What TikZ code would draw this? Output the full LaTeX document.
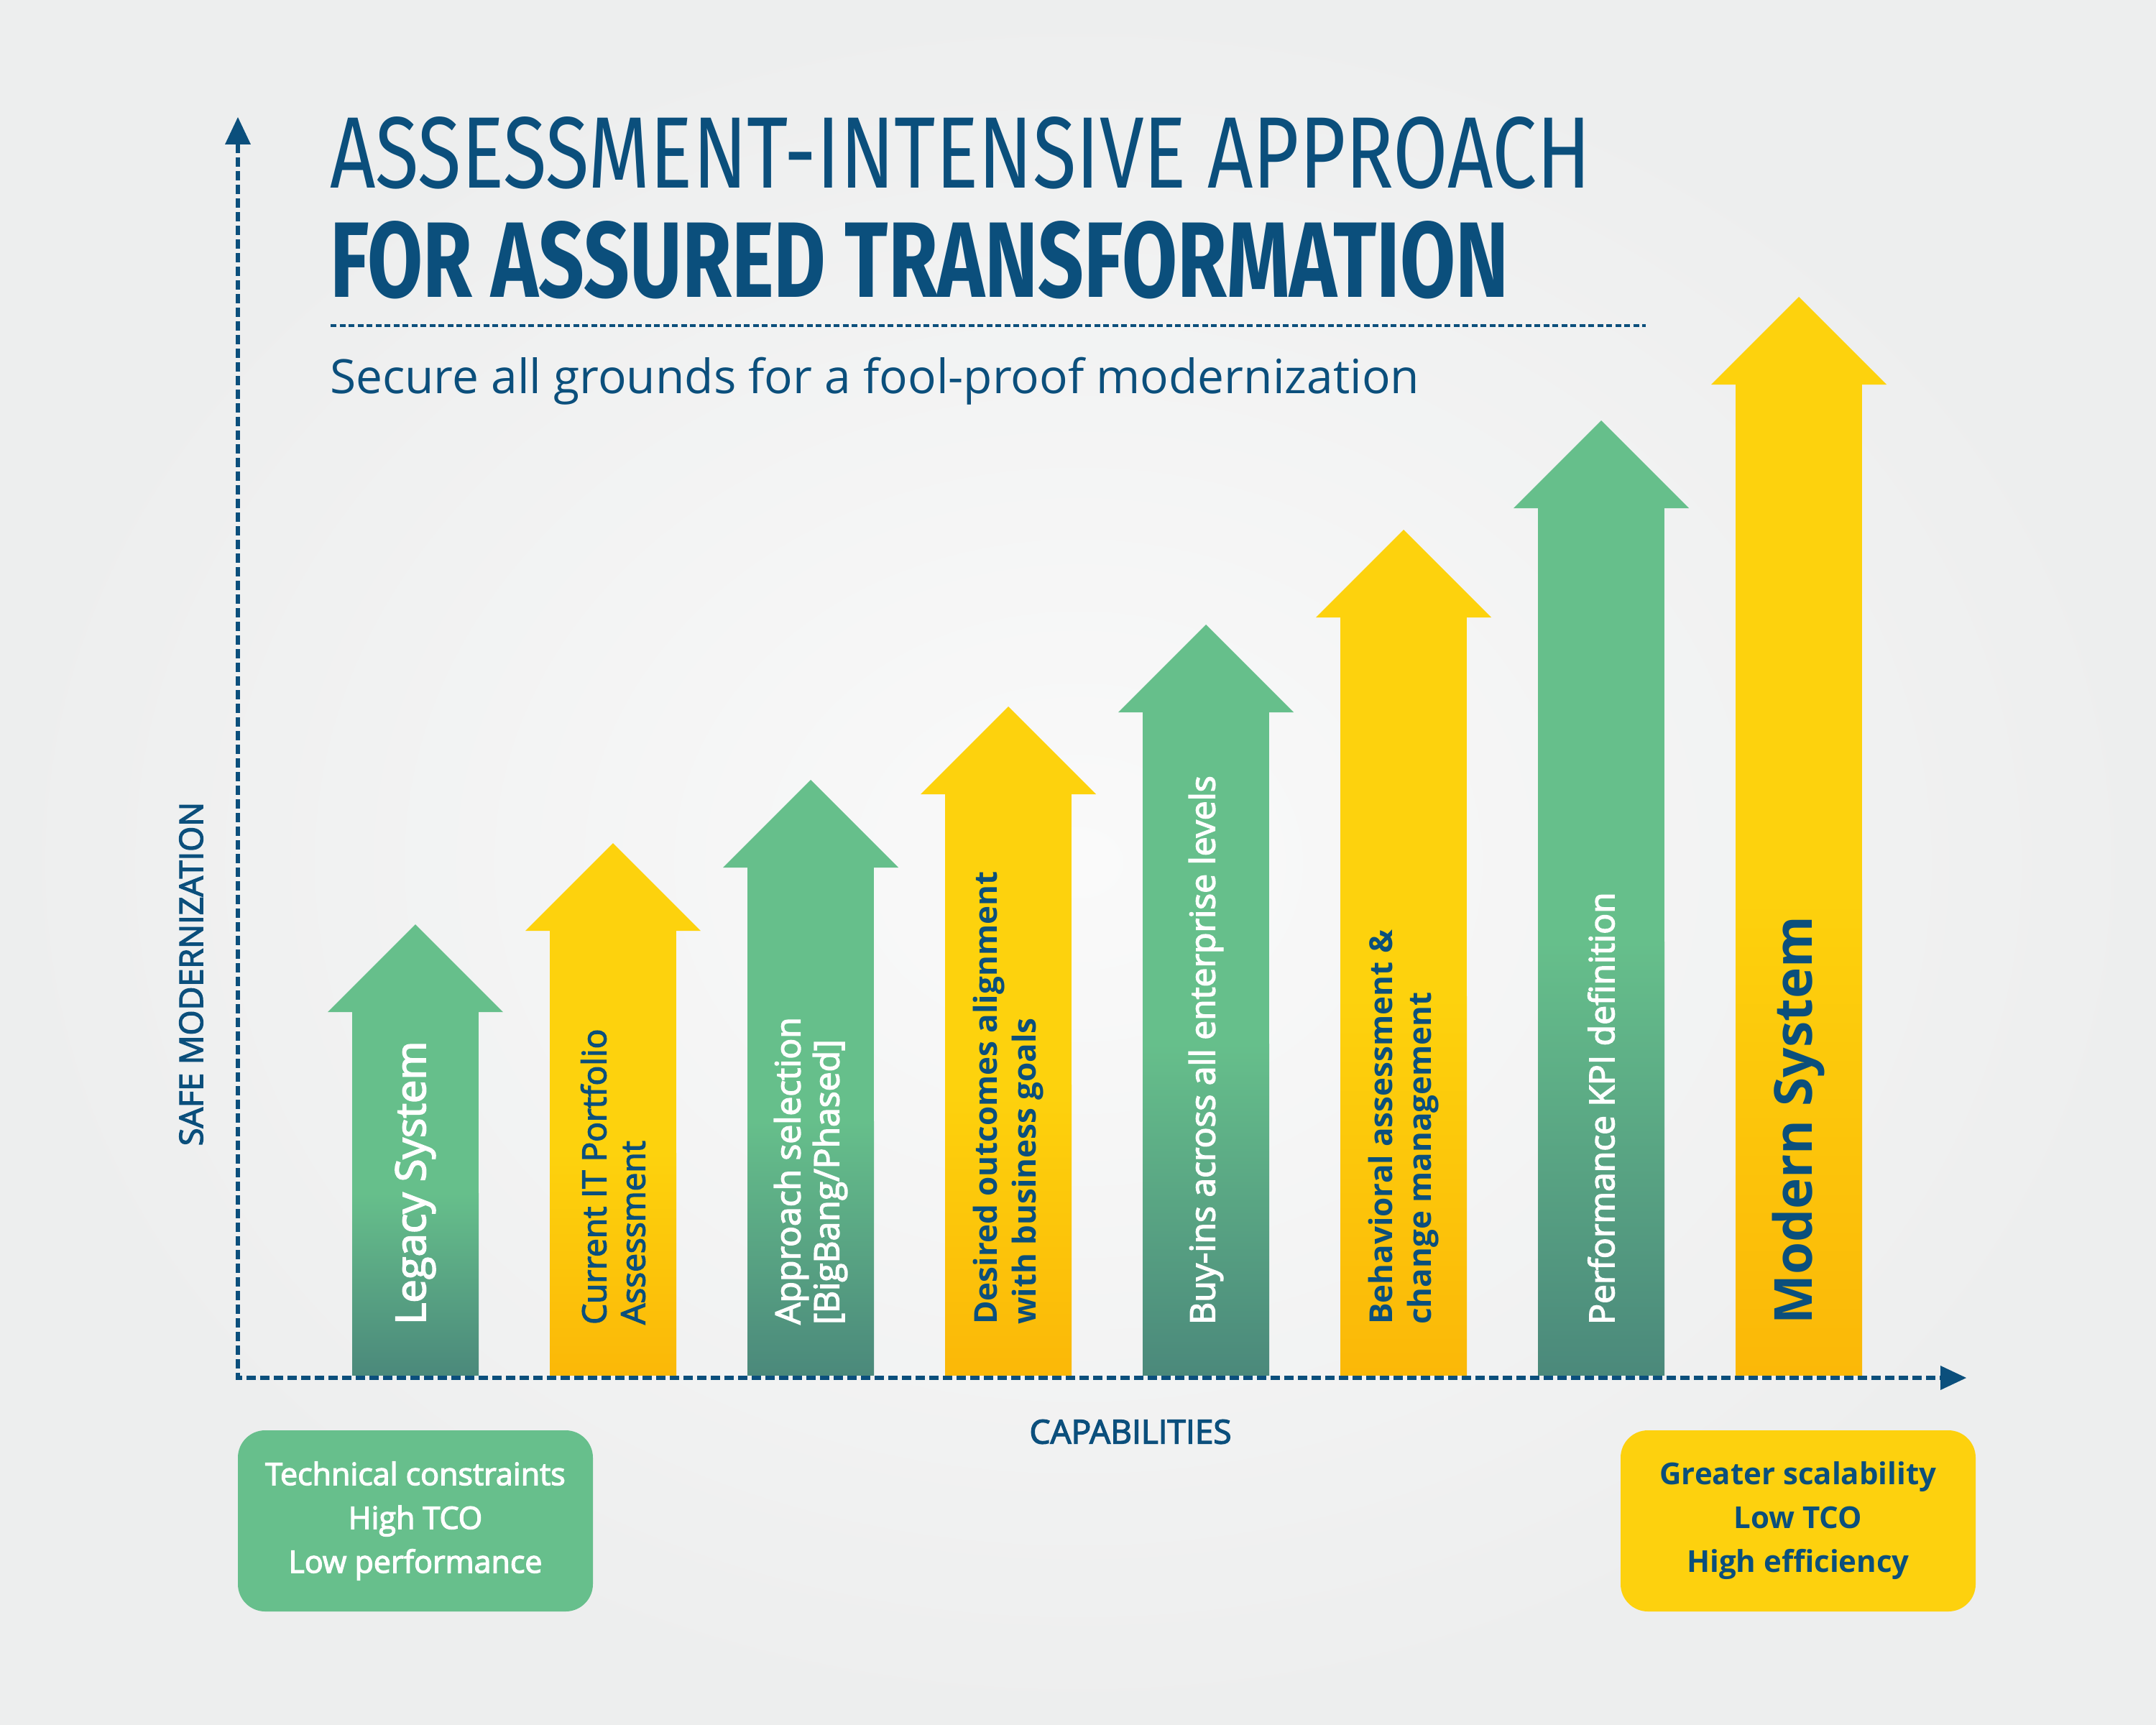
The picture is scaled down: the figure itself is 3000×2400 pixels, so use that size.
\documentclass[tikz,border=0pt]{standalone}
\usepackage{fontspec}
\usepackage{graphicx}
\setmainfont{Open Sans}
\newfontfamily\titlefont{Fira Sans}
\newfontfamily\semib{Open Sans}[FakeBold=3]
\definecolor{dblue}{HTML}{0B4F7C}
\definecolor{gtop}{HTML}{66BF8B}
\definecolor{gbot}{HTML}{4B897B}
\definecolor{ytop}{HTML}{FDD20D}
\definecolor{ybot}{HTML}{FBB808}
\definecolor{gbox}{HTML}{67BF8C}
\definecolor{ybox}{HTML}{FDD10E}
\definecolor{bgout}{HTML}{EDEEEE}
\definecolor{bgin}{HTML}{FAFAFA}
\tikzset{
  gtxt/.style={rotate=90, anchor=west, align=left, inner sep=0pt, text=white,
    font=\semib\fontsize{48}{54}\selectfont},
  ytxt/.style={rotate=90, anchor=west, align=left, inner sep=0pt, text=dblue,
    font=\bfseries\fontsize{44}{54}\selectfont},
  axisline/.style={dblue, line width=6.5pt, dash pattern=on 13pt off 6pt},
  infobox/.style={rounded corners=38pt, minimum width=494pt, minimum height=252pt,
    align=center, inner sep=0pt},
}
\begin{document}
\begin{tikzpicture}[x=1pt,y=-1pt]
\useasboundingbox (0,0) rectangle (3000,2400);
\fill[bgout] (0,0) rectangle (3000,2400);
\shade[inner color=bgin, outer color=bgout] (0,0) rectangle (3000,2400);

% title
\node[anchor=base west, inner sep=0pt, text=dblue] (title1) at (459,262)
  {\resizebox{1755pt}{99pt}{\titlefont\fontsize{100}{100}\selectfont ASSESSMENT-INTENSIVE APPROACH}};
\node[anchor=base west, inner sep=0pt, text=dblue] (title2) at (459,413)
  {\resizebox{1640pt}{106pt}{\titlefont\bfseries\fontsize{100}{100}\selectfont FOR ASSURED TRANSFORMATION}};
\coordinate (divL) at (460,453);
\coordinate (divR) at (2290,453);
\draw[dblue, line width=4pt, dash pattern=on 8pt off 4.5pt] (divL) -- (divR);
\node[anchor=base west, inner sep=0pt, text=dblue] (subtitle) at (459,547)
  {\resizebox{1516pt}{!}{\fontsize{66}{70}\selectfont Secure all grounds for a fool-proof modernization}};

% arrows
\foreach \cx/\ty/\ct/\cb in {578/1286/gtop/gbot, 853/1173/ytop/ybot, 1128/1085/gtop/gbot,
  1403/983/ytop/ybot, 1678/869/gtop/gbot, 1953/737/ytop/ybot, 2228/585/gtop/gbot, 2503/413/ytop/ybot}{
  \pgfmathsetmacro\base{\ty+122}
  \pgfmathsetmacro\midy{(\base+1913)/2}
  \fill[\ct] (\cx-122,\base) -- (\cx,\ty) -- (\cx+122,\base) -- cycle;
  \fill[\ct] (\cx-88,\base-1) rectangle (\cx+88,\midy+1);
  \shade[top color=\ct, bottom color=\cb] (\cx-88,\midy) rectangle (\cx+88,1913);
}

% arrow labels
\node[gtxt, font=\semib\fontsize{58}{60}\selectfont] (a1) at (578,1843) {Legacy System};
\node[ytxt, font=\semib\fontsize{46}{54}\selectfont] (a2) at (853,1843) {Current IT Portfolio\\Assessment};
\node[gtxt] (a3) at (1128,1843) {Approach selection\\{[BigBang/Phased]}};
\node[ytxt] (a4) at (1403,1843) {Desired outcomes alignment\\with business goals};
\node[gtxt] (a5) at (1678,1843) {Buy-ins across all enterprise levels};
\node[ytxt] (a6) at (1953,1843) {Behavioral assessment \&\\change management};
\node[gtxt] (a7) at (2228,1843) {Performance KPI definition};
\node[ytxt, font=\bfseries\fontsize{73}{80}\selectfont] (a8) at (2503,1843) {Modern System};

% axes
\coordinate (O) at (331,1917);
\coordinate (ytip) at (331,163);
\coordinate (xtip) at (2736,1917);
\coordinate (yend) at (331,200);
\coordinate (xend) at (2700,1917);
\draw[axisline] (yend) -- (O) -- (xend);
\fill[dblue] (ytip) -- ++(-18,38) -- ++(36,0) -- cycle;
\fill[dblue] (xtip) -- ++(-36,-17) -- ++(0,34) -- cycle;

\node[rotate=90, inner sep=0pt, text=dblue, font=\semib\fontsize{45}{50}\selectfont] (ylab) at (266,1355) {SAFE MODERNIZATION};
\node[inner sep=0pt, text=dblue, font=\semib\fontsize{46}{50}\selectfont] (xlab) at (1573,1992) {CAPABILITIES};

% boxes
\node[infobox, fill=gbox, text=white, font=\semib\fontsize{43}{61}\selectfont] (lbox) at (578,2116)
  {Technical constraints\\High TCO\\Low performance};
\node[infobox, fill=ybox, text=dblue, font=\bfseries\fontsize{42}{61}\selectfont] (rbox) at (2502,2116)
  {Greater scalability\\Low TCO\\High efficiency};
\end{tikzpicture}
\end{document}
